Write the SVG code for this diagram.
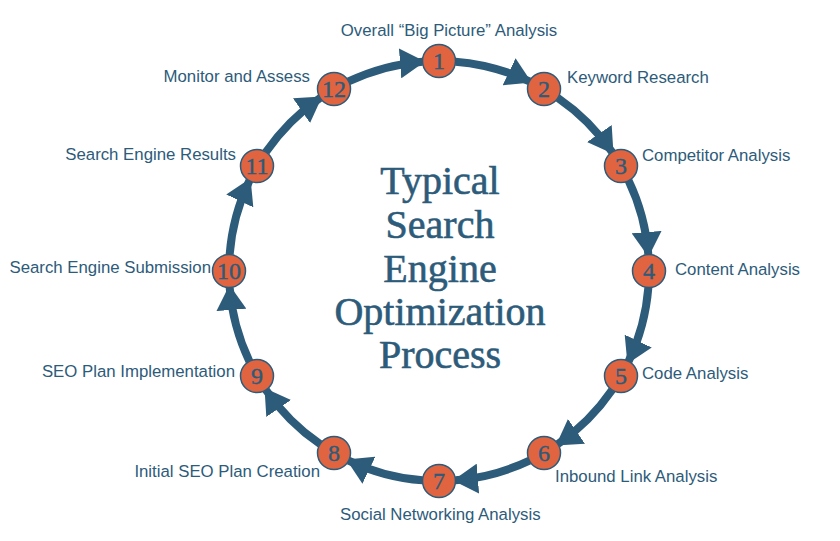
<svg xmlns="http://www.w3.org/2000/svg" width="840" height="541" viewBox="0 0 840 541">
<style>
.arc{fill:none;stroke:#2d5b7a;stroke-width:8;marker-end:url(#ah)}
.node circle{fill:#e0643f;stroke:#2d5b7a;stroke-width:1.5}
.num{font-family:"Liberation Serif",serif;font-size:24px;fill:#2d5b7a;stroke:#2d5b7a;stroke-width:0.4;text-anchor:middle}
.lbl{font-family:"Liberation Sans",Arial,sans-serif;font-size:16.8px;fill:#2d5b7a}
.title{font-family:"Liberation Serif",serif;font-size:40px;fill:#2d5b7a;stroke:#2d5b7a;stroke-width:0.6;text-anchor:middle}
</style>
<defs>
<marker id="ah" viewBox="0 0 10 10" refX="9" refY="5" markerUnits="userSpaceOnUse" markerWidth="25" markerHeight="30" preserveAspectRatio="none" orient="auto">
<path d="M0,0 L10,5 L0,10 z" fill="#2d5b7a"/>
</marker>
</defs>
<rect width="840" height="541" fill="#ffffff"/>
<g id="connectors">
<path class="arc" d="M455.48,61.65 A210,210 0 0 1 529.41,81.46"/>
<path class="arc" d="M557.95,97.93 A210,210 0 0 1 612.07,152.05"/>
<path class="arc" d="M628.54,180.59 A210,210 0 0 1 648.35,254.52"/>
<path class="arc" d="M648.35,287.48 A210,210 0 0 1 628.54,361.41"/>
<path class="arc" d="M612.07,389.95 A210,210 0 0 1 557.95,444.07"/>
<path class="arc" d="M529.41,460.54 A210,210 0 0 1 455.48,480.35"/>
<path class="arc" d="M422.52,480.35 A210,210 0 0 1 348.59,460.54"/>
<path class="arc" d="M320.05,444.07 A210,210 0 0 1 265.93,389.95"/>
<path class="arc" d="M249.46,361.41 A210,210 0 0 1 229.65,287.48"/>
<path class="arc" d="M229.65,254.52 A210,210 0 0 1 249.46,180.59"/>
<path class="arc" d="M265.93,152.05 A210,210 0 0 1 320.05,97.93"/>
<path class="arc" d="M348.59,81.46 A210,210 0 0 1 422.52,61.65"/>
</g>
<g id="node1" class="node"><circle cx="439" cy="61" r="16.5"/><text class="num" x="439" y="69">1</text><text class="lbl" x="449" y="36" text-anchor="middle">Overall “Big Picture” Analysis</text></g>
<g id="node2" class="node"><circle cx="544" cy="89" r="16.5"/><text class="num" x="544" y="97">2</text><text class="lbl" x="567" y="83">Keyword Research</text></g>
<g id="node3" class="node"><circle cx="621" cy="166" r="16.5"/><text class="num" x="621" y="174">3</text><text class="lbl" x="642" y="161">Competitor Analysis</text></g>
<g id="node4" class="node"><circle cx="649" cy="271" r="16.5"/><text class="num" x="649" y="279">4</text><text class="lbl" x="675" y="275">Content Analysis</text></g>
<g id="node5" class="node"><circle cx="621" cy="376" r="16.5"/><text class="num" x="621" y="384">5</text><text class="lbl" x="642" y="379">Code Analysis</text></g>
<g id="node6" class="node"><circle cx="544" cy="453" r="16.5"/><text class="num" x="544" y="461">6</text><text class="lbl" x="555" y="482">Inbound Link Analysis</text></g>
<g id="node7" class="node"><circle cx="439" cy="481" r="16.5"/><text class="num" x="439" y="489">7</text><text class="lbl" x="340" y="520">Social Networking Analysis</text></g>
<g id="node8" class="node"><circle cx="334" cy="453" r="16.5"/><text class="num" x="334" y="461">8</text><text class="lbl" x="320" y="477" text-anchor="end">Initial SEO Plan Creation</text></g>
<g id="node9" class="node"><circle cx="257" cy="376" r="16.5"/><text class="num" x="257" y="384">9</text><text class="lbl" x="235" y="377" text-anchor="end">SEO Plan Implementation</text></g>
<g id="node10" class="node"><circle cx="229" cy="271" r="16.5"/><text class="num" x="229" y="279">10</text><text class="lbl" x="211" y="273" text-anchor="end">Search Engine Submission</text></g>
<g id="node11" class="node"><circle cx="257" cy="166" r="16.5"/><text class="num" x="257" y="174">11</text><text class="lbl" x="236" y="160" text-anchor="end">Search Engine Results</text></g>
<g id="node12" class="node"><circle cx="334" cy="89" r="16.5"/><text class="num" x="334" y="97">12</text><text class="lbl" x="310" y="82" text-anchor="end">Monitor and Assess</text></g>
<g id="title">
<text class="title" x="440" y="194">Typical</text>
<text class="title" x="440" y="238">Search</text>
<text class="title" x="440" y="282">Engine</text>
<text class="title" x="440" y="325">Optimization</text>
<text class="title" x="440" y="368">Process</text>
</g>
</svg>
